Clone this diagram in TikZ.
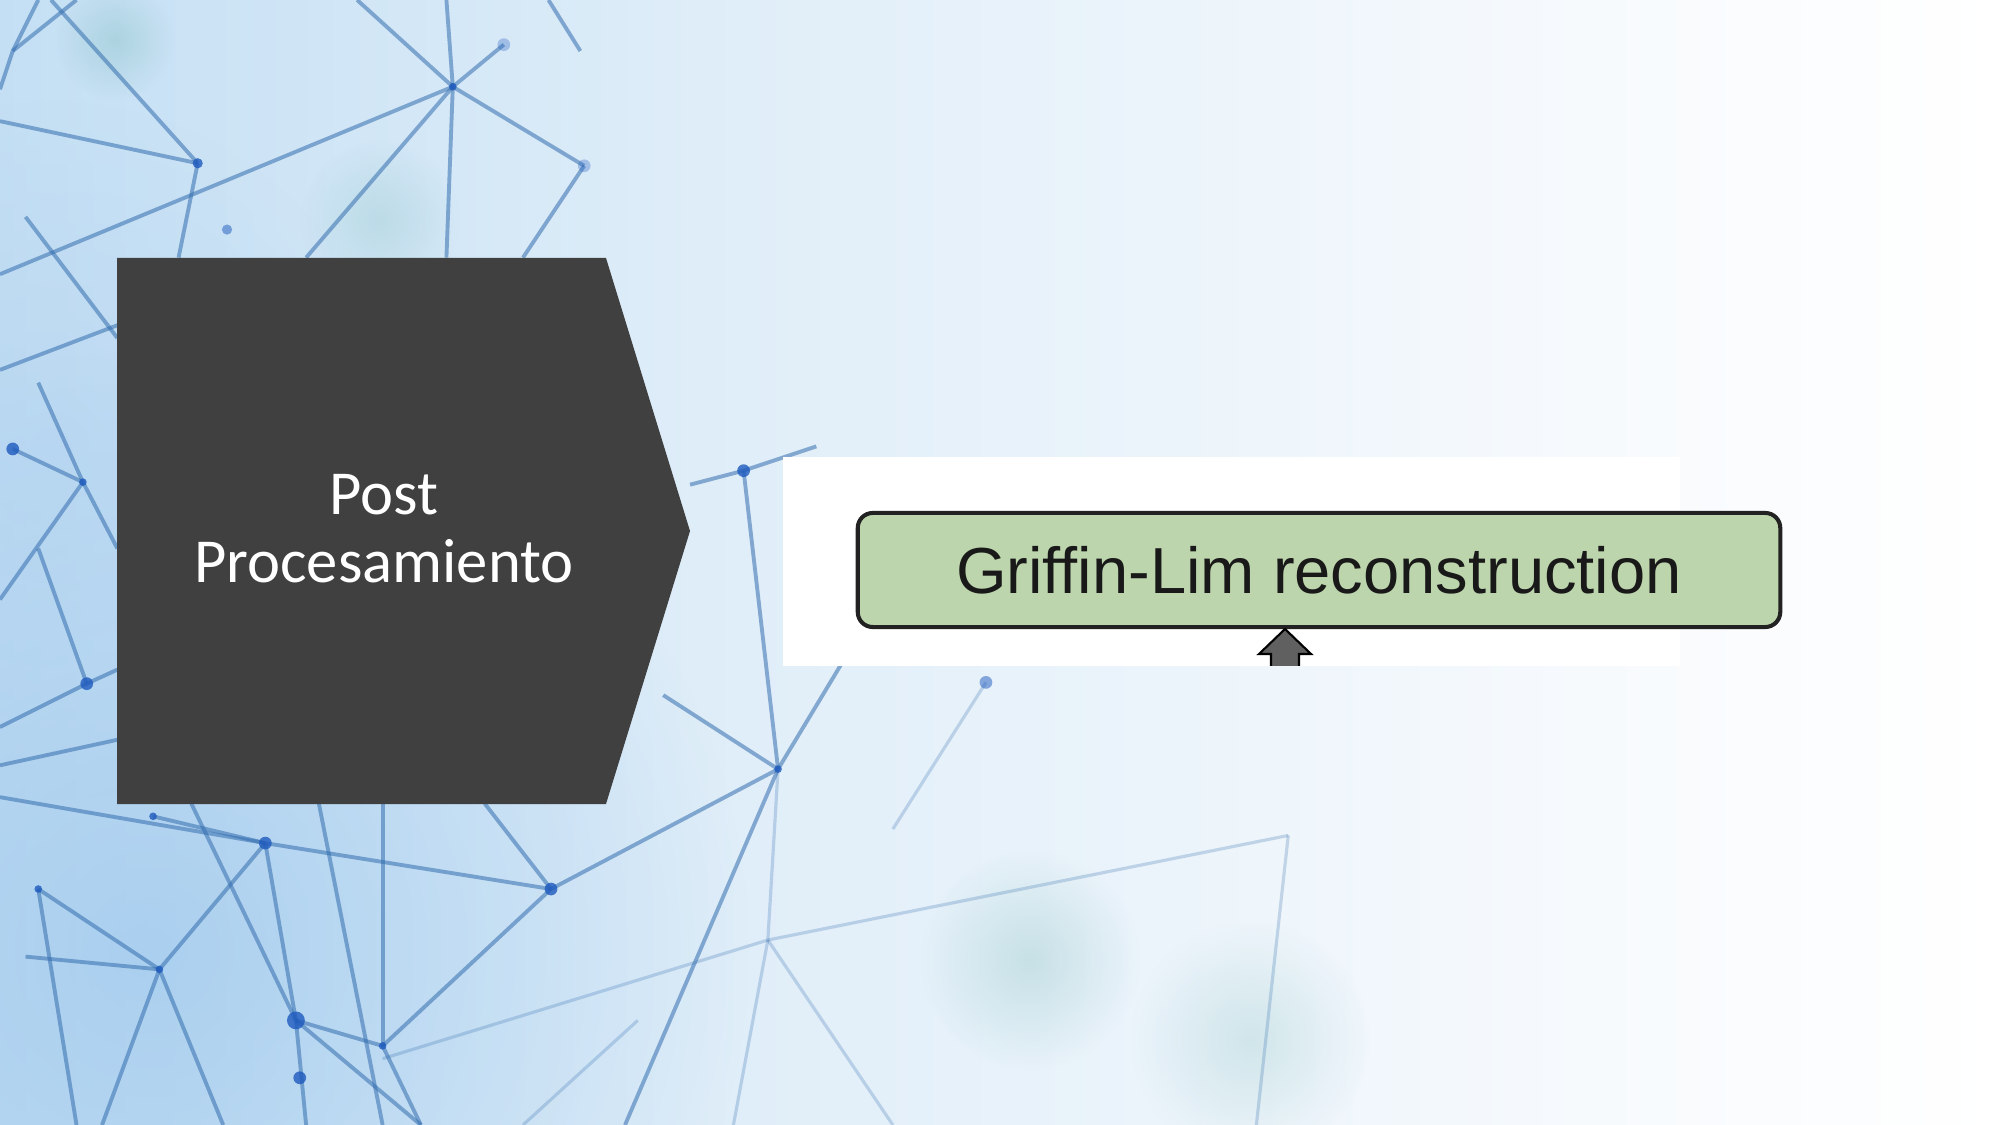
\documentclass[tikz,border=0pt]{standalone}
\usepackage{fontspec}
\setmainfont{Carlito}
\newfontfamily\arialf{Liberation Sans}
\usetikzlibrary{fadings}
\tikzfading[name=softblob, inner color=transparent!0, outer color=transparent!100]
\definecolor{bgL}{RGB}{196,223,244}
\definecolor{bgM}{RGB}{226,239,249}
\definecolor{bgR}{RGB}{247,250,253}
\definecolor{chev}{RGB}{64,64,64}
\definecolor{boxgreen}{RGB}{189,213,172}
\definecolor{boxline}{RGB}{34,34,34}
\definecolor{netblue}{RGB}{52,110,175}
\definecolor{dotblue}{RGB}{30,90,190}
\definecolor{tealc}{RGB}{120,185,185}
\definecolor{arrgray}{RGB}{96,96,96}
\tikzset{
  net/.style={draw=netblue, line width=1.1pt, opacity=0.55},
  netfaint/.style={draw=netblue, line width=0.9pt, opacity=0.25},
  ndot/.style={fill=dotblue, opacity=0.8},
  chevtext/.style={text=white, align=center, font=\fontsize{17.8pt}{19.4pt}\selectfont},
  gbox/.style={draw=boxline, line width=1.15pt, fill=boxgreen, rounded corners=0.15cm,
     minimum width=9.22cm, minimum height=1.14cm, inner sep=0pt,
     text=black!90, font=\arialf\fontsize{18.5pt}{20pt}\selectfont},
  blockarrow/.style={fill=arrgray, draw=black, line width=0.6pt, line join=miter},
}
\begin{document}
\begin{tikzpicture}[x=0.01cm,y=-0.01cm]
\useasboundingbox (0,0) rectangle (2000,1125);
% background
\shade[left color=bgL, right color=bgM] (0,0) rectangle (800,1125);
\shade[left color=bgM, right color=bgR] (800,0) rectangle (1600,1125);
\shade[left color=bgR, right color=white] (1600,0) rectangle (2000,1125);
\fill[color={rgb,255:red,150;green,195;blue,235}, opacity=0.6, path fading=softblob] (150,950) circle (600);
\fill[color={rgb,255:red,170;green,205;blue,238}, opacity=0.4, path fading=softblob] (50,450) circle (350);
\fill[tealc, opacity=0.35, path fading=softblob] (115,40) circle (60);
\fill[tealc, opacity=0.25, path fading=softblob] (380,220) circle (80);
\fill[tealc, opacity=0.3, path fading=softblob] (1030,960) circle (110);
\fill[tealc, opacity=0.25, path fading=softblob] (1250,1040) circle (120);
% network (coordinates in the 1568x882 frame)
\begin{scope}[scale=1.2755]
\draw[net] (0,95) -- (155,128);
\draw[net] (0,215) -- (355,68);
\draw[net] (20,170) -- (92,265);
\draw[net] (155,128) -- (140,202);
\draw[net] (30,0) -- (10,40) -- (0,70);
\draw[net] (10,40) -- (60,0);
\draw[net] (40,0) -- (155,128);
\draw[net] (355,68) -- (395,35);
\draw[net] (355,68) -- (240,202);
\draw[net] (355,68) -- (350,202);
\draw[net] (355,68) -- (458,130);
\draw[net] (355,68) -- (280,0);
\draw[net] (350,0) -- (355,68);
\draw[net] (458,130) -- (410,202);
\draw[net] (430,0) -- (455,40);
\draw[net] (0,290) -- (92,255);
\draw[net] (10,352) -- (65,378);
\draw[net] (65,378) -- (0,470);
\draw[net] (65,378) -- (92,430);
\draw[net] (30,300) -- (65,378);
\draw[net] (68,536) -- (0,570);
\draw[net] (68,536) -- (92,525);
\draw[net] (30,430) -- (68,536);
\draw[net] (0,600) -- (92,580);
\draw[net] (0,625) -- (208,661);
\draw[net] (120,640) -- (208,661);
\draw[net] (208,661) -- (125,760);
\draw[net] (125,760) -- (80,882);
\draw[net] (125,760) -- (175,882);
\draw[net] (125,760) -- (20,750);
\draw[net] (30,697) -- (125,760);
\draw[net] (30,697) -- (60,882);
\draw[net] (208,661) -- (232,800);
\draw[net] (232,800) -- (300,820);
\draw[net] (232,800) -- (240,882);
\draw[net] (232,800) -- (150,630);
\draw[net] (232,800) -- (330,882);
\draw[net] (300,630) -- (300,820);
\draw[net] (432,697) -- (300,820);
\draw[net] (432,697) -- (610,603);
\draw[net] (208,661) -- (432,697);
\draw[net] (380,630) -- (432,697);
\draw[net] (250,630) -- (300,882);
\draw[net] (610,603) -- (490,882);
\draw[net] (610,603) -- (583,369);
\draw[net] (610,603) -- (520,545);
\draw[net] (610,603) -- (660,520);
\draw[net] (541,380) -- (583,369) -- (640,350);
\draw[net] (300,820) -- (330,882);
\draw[netfaint] (602,737) -- (700,882);
\draw[netfaint] (602,737) -- (575,882);
\draw[netfaint] (602,737) -- (610,603);
\draw[netfaint] (602,737) -- (1010,655);
\draw[netfaint] (300,830) -- (602,737);
\draw[netfaint] (1010,655) -- (985,882);
\draw[netfaint] (773,535) -- (700,650);
\draw[netfaint] (410,882) -- (500,800);
\fill[ndot] (155,128) circle (4);
\fill[ndot] (355,68) circle (3);
\fill[ndot, opacity=0.3] (395,35) circle (5);
\fill[ndot, opacity=0.3] (458,130) circle (5);
\fill[ndot, opacity=0.5] (178,180) circle (4);
\fill[ndot] (10,352) circle (5);
\fill[ndot] (65,378) circle (3);
\fill[ndot] (583,369) circle (5);
\fill[ndot] (68,536) circle (5);
\fill[ndot] (208,661) circle (5);
\fill[ndot] (120,640) circle (3);
\fill[ndot] (432,697) circle (5);
\fill[ndot] (232,800) circle (7);
\fill[ndot] (125,760) circle (3);
\fill[ndot] (30,697) circle (3);
\fill[ndot] (235,845) circle (5);
\fill[ndot] (610,603) circle (3);
\fill[ndot, opacity=0.5] (773,535) circle (5);
\fill[ndot] (300,820) circle (3);
\end{scope}
% chevron
\fill[chev] (117,258) -- (606,258) -- (690,531) -- (606,804) -- (117,804) -- cycle;
\node[chevtext] (post) at (384,529) {Post\\Procesamiento};
% pasted figure
\fill[white] (783,457) rectangle (1680,666);
\node[gbox] (gl) at (1319,570) {Griffin-Lim reconstruction};
\coordinate (tip) at (1285,629);
\begin{scope}
\clip (783,457) rectangle (1680,666);
\draw[blockarrow] (tip) -- ++(26,25) -- ++(-12,0) -- ++(0,20) -- ++(-28,0) -- ++(0,-20) -- ++(-12,0) -- cycle;
\end{scope}
\end{tikzpicture}
\end{document}
